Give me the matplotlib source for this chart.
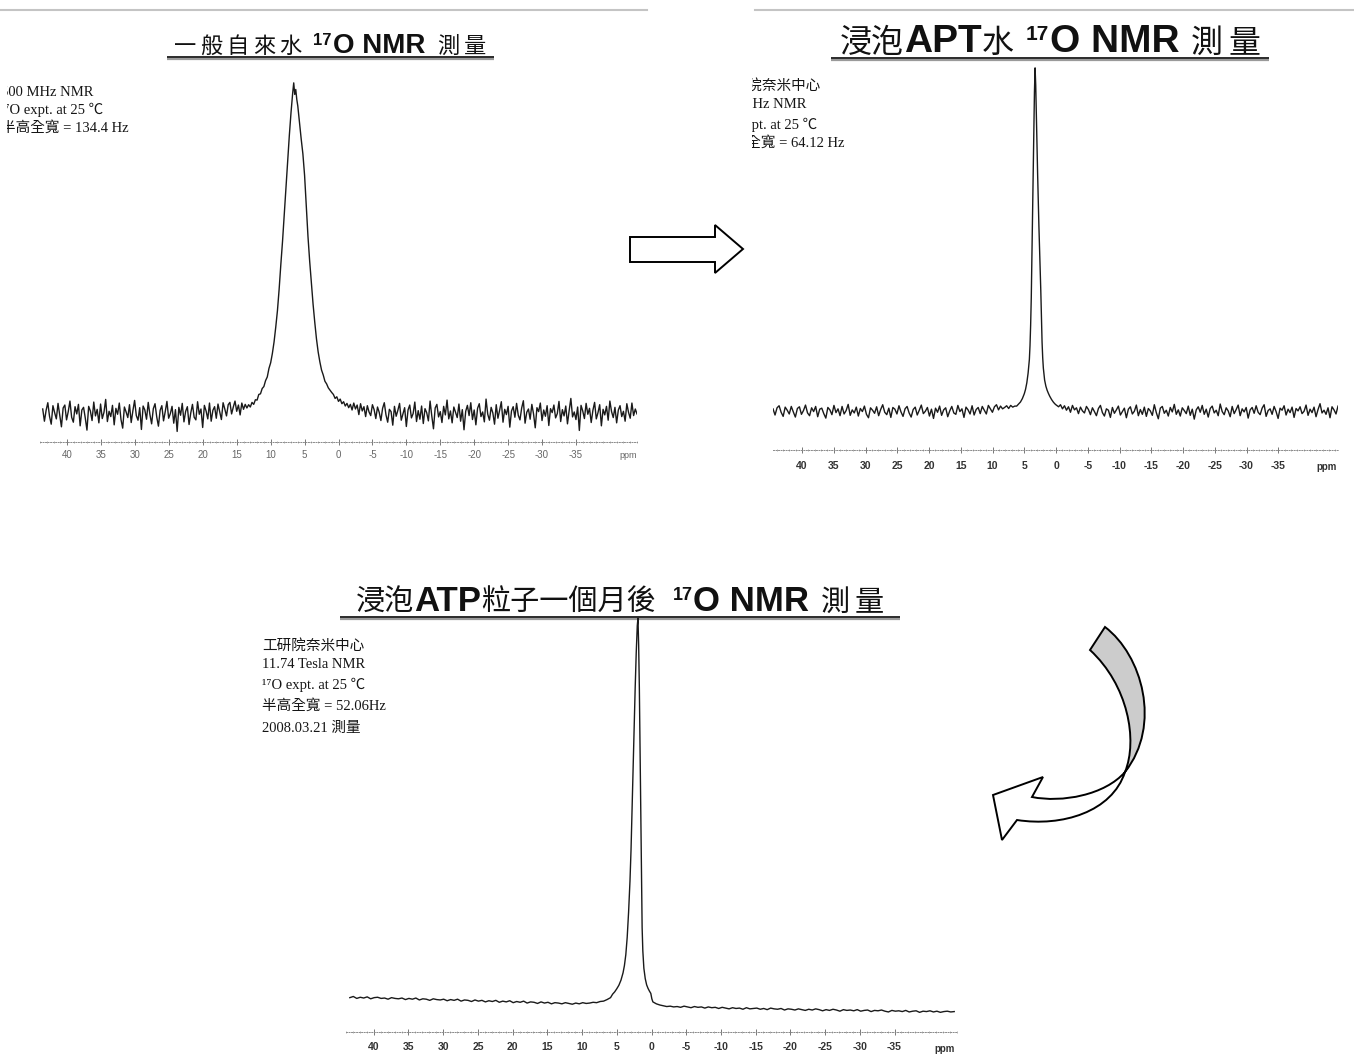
import numpy as np
import matplotlib.pyplot as plt
from matplotlib.path import Path
from matplotlib.patches import PathPatch

plt.rcParams['axes.unicode_minus'] = False

W, H = 1354, 1056
CJK = ['Noto Sans CJK TC', 'DejaVu Sans']
SERIF = ['Liberation Serif', 'Noto Sans CJK TC', 'DejaVu Sans']
SANS = ['Liberation Sans', 'Noto Sans CJK TC', 'DejaVu Sans']

# ---------------- data ----------------
tick_ppm = [40, 35, 30, 25, 20, 15, 10, 5, 0, -5, -10, -15, -20, -25, -30, -35]

# panel 1: ordinary tap water (broad line)
p1_left_range = (43.6, 13.75)
p1_left = [1.2, -2.5, 0.8, 3.1, -1.0, -3.4, 2.2, 0.1, -1.8, 2.9, -0.6, -4.2, 1.5, 2.4, -2.1, 0.4, 3.6, -1.3, -2.8, 1.9,
           -0.3, 2.6, -3.9, 0.9, 1.7, -1.5, -5.2, 2.0, 0.6, -2.3, 3.3, -0.9, 1.1, -3.0, 2.7, -1.7, 0.2, 4.1, -2.6, 0.5,
           -1.1, 2.3, -3.6, 1.4, -0.4, 3.0, -2.0, -4.6, 1.8, 0.3, -1.4, 2.5, -2.9, 0.7, 3.8, -0.8, -2.2, 1.6, -5.0, 2.1,
           0.9, -1.9, 3.2, -0.5, -3.3, 1.3, 2.8, -1.2, -4.0, 0.8, 2.2, -2.4, 0.4, 3.5, -1.6, -0.2, 2.0, -3.1, 1.0, -5.6,
           1.7, -0.7, 2.9, -2.7, 0.5, 1.9, -3.5, 0.0, 2.6, -1.3, -2.1, 3.4, -0.4, 1.2, -4.4, 2.3, 0.6, -1.8, 3.0, -2.5,
           0.8, 1.9, -1.6, 2.7, 0.4, -2.0, 3.1, 1.2, -0.9, 2.5, 3.2, -0.3, 1.8, 3.6, 0.5, 2.4, -0.6, 3.0, 1.1, 2.6]
p1_peak_ppm = [13.5, 13.25, 13.0, 12.75, 12.5, 12.25, 12.0, 11.75, 11.5, 11.25, 11.0, 10.75, 10.5, 10.25, 10.0,
               9.75, 9.5, 9.25, 9.0, 8.75, 8.5, 8.25, 8.0, 7.75, 7.5, 7.25, 7.0, 6.75, 6.6, 6.45, 6.3, 6.15,
               6.0, 5.75, 5.5, 5.25, 5.0, 4.75, 4.5, 4.25, 4.0, 3.75, 3.5, 3.25, 3.0, 2.75, 2.5, 2.25, 2.0,
               1.75, 1.5, 1.25, 1.0, 0.75, 0.5, 0.25, 0.0, -0.25, -0.5, -0.75, -1.0, -1.25, -1.5]
p1_peak_int = [1.5, 2.5, 1.8, 3.2, 2.6, 4.0, 3.9, 5.6, 5.8, 7.4, 8.0, 9.8, 10.9, 13.5, 15.2,
               18.0, 21.5, 26.0, 31.0, 37.5, 45.0, 52.0, 60.0, 68.5, 76.5, 84.0, 91.0, 97.0, 100.0, 96.5, 98.0, 95.0,
               93.0, 88.0, 83.0, 78.5, 72.0, 63.0, 53.5, 46.0, 39.5, 33.0, 27.5, 22.5, 18.5, 15.5, 13.0, 11.5, 9.6,
               8.8, 7.6, 6.9, 6.2, 5.6, 4.4, 4.9, 3.5, 4.2, 2.8, 3.4, 2.1, 2.9, 1.6]
p1_right_range = (-1.75, -44.0)
p1_right = [2.6, 0.9, 3.0, 1.2, 2.4, -0.5, 2.8, 0.6, 1.9, -1.1, 2.2, 0.3, -0.8, 2.5, 1.0, -1.7, 1.8, 0.2, -2.3, 1.4,
            3.1, -0.6, -2.8, 1.1, 0.4, -3.7, 2.0, -1.0, 0.8, 2.9, -2.2, -0.3, 1.6, -4.1, 0.9, 2.4, -1.5, -0.2, 3.3, -2.6,
            0.7, -1.9, 2.1, -3.2, 1.3, 0.1, -2.4, 3.6, -0.9, -4.8, 1.5, 2.6, -1.2, 0.4, -2.9, 2.0, -0.6, 3.9, -1.8, 0.6,
            -3.0, 1.8, 0.2, -1.4, 2.7, -2.5, 1.0, -5.1, 0.5, 2.3, -0.8, 3.1, -2.0, 0.9, -3.6, 1.4, 2.8, -1.1, 0.3, -2.7,
            4.2, -0.4, -2.2, 1.7, 0.0, -3.4, 2.5, -1.6, 0.8, 3.4, -2.8, 1.1, -0.5, 2.0, -4.3, 0.6, 1.9, -1.3, 2.9, -0.7,
            -2.1, 1.5, 3.7, -3.1, 0.2, 1.2, -1.9, 2.6, -0.3, -4.5, 1.6, 0.4, 3.0, -2.3, 0.9, -1.0, 2.2, -3.8, 1.3, 0.1,
            2.4, -1.5, -0.2, 3.5, -2.6, 1.0, -0.9, 2.1, -3.3, 0.7, 4.4, -1.2, 0.3, -2.0, 1.8, -5.3, 2.3, 0.6, -1.7, 2.9,
            -0.4, 1.4, -2.9, 0.8, 3.2, -1.8, 0.1, 2.5, -3.9, 1.1, -0.6, 2.0, -2.2, 3.6, 0.4, -1.4, 1.7, -3.0, 0.9, 2.2,
            -1.1, 0.5, -2.5, 2.8, 0.2, -1.6, 3.0, -0.8, 1.2, -0.3]

# panel 2: water soaked with APT
p2_left_range = (44.57, 6.5)
p2_left = [0.6, -1.2, 0.9, 1.5, -0.4, -1.6, 1.1, 0.2, -0.9, 1.3, -0.3, -1.8, 0.7, 1.2, -1.0, 0.1, 1.7, -0.6, -1.4, 0.9,
           -0.2, 1.3, -1.7, 0.5, 0.8, -0.8, -2.1, 1.0, 0.3, -1.1, 1.6, -0.5, 0.6, -1.4, 1.3, -0.9, 0.1, 1.9, -1.3, 0.3,
           -0.6, 1.1, -1.5, 0.7, -0.2, 1.4, -1.0, -2.0, 0.9, 0.2, -0.7, 1.2, -1.4, 0.4, 1.8, -0.4, -1.1, 0.8, -1.9, 1.0,
           0.5, -0.9, 1.5, -0.3, -1.6, 0.6, 1.3, -0.6, -1.8, 0.4, 1.1, -1.2, 0.2, 1.7, -0.8, -0.1, 1.0, -1.5, 0.5, -2.2,
           0.8, -0.4, 1.4, -1.3, 0.3, 0.9, -1.7, 0.0, 1.3, -0.6, -1.0, 1.6, -0.2, 0.6, -1.9, 1.1, 0.3, -0.9, 1.5, -1.2,
           0.4, 1.0, -0.8, 1.3, 0.2, -0.9, 1.6, 0.6, -0.4, 1.2, 1.8, 0.3, 1.4, 0.6, 1.0, 1.5, 0.7, 1.6, 1.1, 1.4]
p2_peak_ppm = [6.2, 5.9, 5.6, 5.3, 5.0, 4.8, 4.6, 4.4, 4.2, 4.1, 4.0, 3.9, 3.8, 3.7, 3.6, 3.5, 3.4, 3.3,
               3.2, 3.1, 3.0, 2.9, 2.8, 2.7, 2.6, 2.5, 2.4, 2.3, 2.2, 2.1, 2.0, 1.8, 1.6, 1.4, 1.2, 1.0,
               0.7, 0.4, 0.1, -0.2, -0.4]
p2_peak_int = [1.4, 2.0, 2.6, 3.6, 5.0, 6.3, 8.2, 11.0, 15.0, 19.0, 25.0, 33.0, 45.0, 57.0, 70.0, 82.0, 93.0, 100.0,
               95.0, 86.0, 77.0, 69.0, 61.0, 54.0, 48.0, 42.0, 35.0, 27.0, 20.0, 15.5, 12.5, 9.0, 7.2, 6.0, 5.1, 4.3,
               3.3, 2.5, 1.9, 1.5, 1.2]
p2_right_range = (-0.7, -44.4)
p2_right = [1.8, 0.6, 1.5, 0.2, 1.2, -0.4, 1.6, 0.3, 0.9, -0.8, 1.1, 0.0, -0.6, 1.3, 0.4, -1.1, 0.9, -0.2, -1.4, 0.7,
            1.6, -0.5, -1.5, 0.6, 0.2, -1.9, 1.0, -0.7, 0.3, 1.4, -1.2, -0.2, 0.8, -2.0, 0.5, 1.2, -0.9, -0.1, 1.7, -1.4,
            0.4, -1.0, 1.1, -1.6, 0.7, 0.0, -1.3, 1.8, -0.5, -2.3, 0.8, 1.3, -0.7, 0.2, -1.5, 1.0, -0.3, 1.9, -1.0, 0.3,
            -1.5, 0.9, 0.1, -0.8, 1.4, -1.3, 0.5, -2.4, 0.3, 1.2, -0.4, 1.6, -1.0, 0.5, -1.8, 0.7, 1.4, -0.6, 0.2, -1.4,
            2.0, -0.2, -1.1, 0.9, 0.0, -1.7, 1.3, -0.8, 0.4, 1.7, -1.4, 0.6, -0.3, 1.0, -2.1, 0.3, 1.0, -0.7, 1.5, -0.4,
            -1.1, 0.8, 1.8, -1.6, 0.1, 0.6, -1.0, 1.3, -0.2, -2.2, 0.8, 0.2, 1.5, -1.2, 0.5, -0.5, 1.1, -1.9, 0.7, 0.0,
            1.2, -0.8, -0.1, 1.7, -1.3, 0.5, -0.5, 1.1, -1.7, 0.4, 2.1, -0.6, 0.2, -1.0, 0.9, -2.0, 1.2, 0.3, -0.9, 1.4]

# panel 3: one month after soaking ATP particles
p3_left_range = (43.45, 5.9)
p3_left = [1.9, 2.2, 1.7, 2.0, 1.8, 2.1, 1.6, 1.9, 2.0, 1.7, 1.8, 1.5, 1.9, 1.7, 1.6, 1.8, 1.4, 1.7, 1.5, 1.8,
           1.3, 1.6, 1.5, 1.2, 1.6, 1.4, 1.3, 1.5, 1.1, 1.4, 1.2, 1.5, 1.0, 1.3, 1.2, 0.9, 1.3, 1.0, 1.2, 0.8,
           1.1, 0.9, 1.2, 0.7, 1.0, 0.8, 1.1, 0.6, 0.9, 0.7, 1.0, 0.5, 0.8, 0.7, 0.4, 0.8, 0.5, 0.7, 0.3, 0.6,
           0.5, 0.3, 0.6, 0.4, 0.2, 0.5, 0.3, 0.6, 0.4, 0.5, 0.7, 0.6, 0.9, 1.0, 1.4, 1.9]
p3_peak_ppm = [5.6, 5.3, 5.0, 4.7, 4.4, 4.1, 3.9, 3.7, 3.5, 3.3, 3.1, 2.95, 2.8, 2.65, 2.5, 2.35, 2.2, 2.05, 1.95,
               1.85, 1.75, 1.65, 1.55, 1.45, 1.35, 1.25, 1.1, 0.9, 0.7, 0.5, 0.3, 0.1, -0.05]
p3_peak_int = [2.8, 3.4, 4.2, 5.1, 6.4, 8.3, 10.2, 13.0, 17.5, 24.0, 32.0, 40.0, 50.0, 61.0, 72.0, 82.0, 91.0, 98.0, 100.0,
               93.0, 82.0, 66.0, 50.0, 32.0, 20.0, 14.0, 9.5, 6.8, 5.2, 4.3, 3.6, 3.0, 1.6]
p3_right_range = (-0.2, -43.6)
p3_right = [0.8, 0.3, 0.0, -0.2, -0.4, -0.3, -0.5, -0.4, -0.6, -0.3, -0.5, -0.7, -0.4, -0.6, -0.5, -0.8, -0.5, -0.7, -0.6, -0.9,
            -0.6, -0.8, -1.0, -0.7, -0.9, -0.8, -1.1, -0.7, -1.0, -0.9, -0.8, -1.1, -0.9, -1.2, -0.8, -1.0, -1.1, -0.9, -1.3, -1.0,
            -1.1, -1.3, -1.0, -1.2, -1.4, -1.1, -1.3, -1.0, -1.2, -1.5, -1.2, -1.4, -1.1, -1.3, -1.6, -1.2, -1.4, -1.3, -1.5, -1.2,
            -1.6, -1.4, -1.3, -1.7, -1.4, -1.5, -1.3, -1.6, -1.8, -1.4, -1.6, -1.5, -1.7, -1.4, -1.8, -1.6, -1.5, -1.9, -1.6, -1.7,
            -1.5, -1.8, -1.6, -1.9, -1.7, -1.6, -1.8, -1.7]

# titles: (text, fontsize, family, weight, raise, gap after)
title1 = [('一', 16, CJK, 'normal', 0, 4), ('般', 16, CJK, 'normal', 0, 4), ('自', 16, CJK, 'normal', 0, 4),
          ('來', 16, CJK, 'normal', 0, 4), ('水', 16, CJK, 'normal', 0, 12), ('17', 12, SANS, 'bold', -8, 1),
          ('O NMR', 20, SANS, 'bold', 0, 12), ('測', 16, CJK, 'normal', 0, 4), ('量', 16, CJK, 'normal', 0, 0)]
title2 = [('浸泡', 23, CJK, 'normal', 0, 0), ('APT', 28, SANS, 'bold', 0, 0), ('水', 23, CJK, 'normal', 0, 12),
          ('17', 15, SANS, 'bold', -12, 1), ('O NMR', 28, SANS, 'bold', 0, 12),
          ('測', 23, CJK, 'normal', 0, 5), ('量', 23, CJK, 'normal', 0, 0)]
title3 = [('浸泡', 21, CJK, 'normal', 0, 0), ('ATP', 25, SANS, 'bold', 0, 0), ('粒子一個月後', 21, CJK, 'normal', 0, 16),
          ('17', 13, SANS, 'bold', -11, 1), ('O NMR', 25, SANS, 'bold', 0, 12),
          ('測', 21, CJK, 'normal', 0, 4), ('量', 21, CJK, 'normal', 0, 0)]

info1 = ['500 MHz NMR', '¹⁷O expt. at 25 ℃', '半高全寬 = 134.4 Hz']
info2 = ['工研院奈米中心', '500 MHz NMR', '¹⁷O expt. at 25 ℃', '半高全寬 = 64.12 Hz']
info3 = ['工研院奈米中心', '11.74 Tesla NMR', '¹⁷O expt. at 25 ℃', '半高全寬 = 52.06Hz', '2008.03.21 測量']


def build(left_range, left, peak_ppm, peak_int, right_range, right):
    x = np.concatenate([np.linspace(*left_range, len(left)), peak_ppm,
                        np.linspace(*right_range, len(right))])
    y = np.concatenate([left, peak_int, right])
    return x, y


# ---------------- figure ----------------
fig = plt.figure(figsize=(W / 100, H / 100), dpi=100)
bg = fig.add_axes([0, 0, 1, 1])
bg.set_xlim(0, W)
bg.set_ylim(H, 0)
bg.axis('off')
renderer = fig.canvas.get_renderer()


def px_axes(x0, y0, x1, y1):
    ax = fig.add_axes([x0 / W, 1 - y1 / H, (x1 - x0) / W, (y1 - y0) / H])
    ax.patch.set_alpha(0)
    return ax


def spectrum(box, xlim, ylim, x, y, lw, bold, size, tcol, pad, ppm_xy):
    ax = px_axes(*box)
    ax.plot(x, y, color='#1a1a1a', lw=lw)
    ax.set_xlim(*xlim)
    ax.set_ylim(*ylim)
    for s in ('left', 'right', 'top'):
        ax.spines[s].set_visible(False)
    ax.spines['bottom'].set(color='#8a8a8a', lw=0.7, ls=(0, (1, 1.6)))
    ax.set_yticks([])
    ax.set_xticks(tick_ppm)
    ax.set_xticklabels([str(t) for t in tick_ppm], family='Liberation Sans',
                       fontweight='bold' if bold else 'normal')
    ax.set_xticks(range(-44, 45), minor=True)
    ax.tick_params(axis='x', which='major', direction='inout', length=4, width=0.7,
                   color='#777777', labelsize=size, labelcolor=tcol, pad=pad)
    ax.tick_params(axis='x', which='minor', direction='inout', length=2, width=0.5, color='#9a9a9a')
    bg.text(*ppm_xy, 'ppm', fontsize=size - 0.5, family='Liberation Sans', color=tcol,
            ha='center', va='center', fontweight='bold' if bold else 'normal')
    return ax


def title(xc, y, pieces, x0, x1, yline):
    arts, gaps = [], []
    for s, size, fam, wt, dy, gap in pieces:
        arts.append(bg.text(0, y + dy, s, fontsize=size, family=fam, fontweight=wt,
                            color='#111111', ha='left', va='baseline'))
        gaps.append(gap)
    widths = [t.get_window_extent(renderer).width for t in arts]
    x = xc - (sum(widths) + sum(gaps[:-1])) / 2
    for t, w, g in zip(arts, widths, gaps):
        t.set_x(x)
        x += w + g
    bg.plot([x0, x1], [yline + 1.5, yline + 1.5], color='#9a9a9a', lw=1.6, solid_capstyle='butt')
    bg.plot([x0, x1], [yline, yline], color='#1a1a1a', lw=1.3, solid_capstyle='butt')


def info(box, lines, xs, ys, size):
    ax = px_axes(*box)
    ax.set_xlim(box[0], box[2])
    ax.set_ylim(box[3], box[1])
    ax.set_xticks([])
    ax.set_yticks([])
    for s in ax.spines.values():
        s.set_visible(False)
    for s, x, y in zip(lines, xs, ys):
        ax.text(x, y, s, fontsize=size, family=SERIF, color='#151515',
                va='baseline', clip_on=True)


# top rules of the cropped slides
bg.plot([0, 647], [10, 10], color='#c4c4c4', lw=1.5)
bg.plot([755, W], [10, 10], color='#c4c4c4', lw=1.5)

# panel 1
x1, y1 = build(p1_left_range, p1_left, p1_peak_ppm, p1_peak_int, p1_right_range, p1_right)
spectrum((40, 70, 637, 442), (43.6, -44.0), (-8.8, 103.9), x1, y1, 1.0, False, 7, '#666666', 4, (628, 456))
title(330, 53, title1, 167, 494, 57)
info((7, 75, 220, 140), info1, [1, 0, 1], [96, 114, 132], 10.5)

# panel 2
x2, y2 = build(p2_left_range, p2_left, p2_peak_ppm, p2_peak_int, p2_right_range, p2_right)
spectrum((773, 60, 1338, 450), (44.57, -44.4), (-11.4, 102.3), x2, y2, 1.0, True, 7.5, '#333333', 6, (1327, 467))
title(1050, 52, title2, 831, 1269, 58)
info((752, 70, 900, 155), info2, [718, 714, 714, 717], [90, 108, 129, 147], 10.5)

# panel 3
x3, y3 = build(p3_left_range, p3_left, p3_peak_ppm, p3_peak_int, p3_right_range, p3_right)
spectrum((346, 615, 957, 1032), (43.45, -43.6), (-6.98, 100.8), x3, y3, 1.0, True, 7.5, '#333333', 5, (945, 1049))
title(620, 611, title3, 340, 900, 617)
info((255, 625, 460, 745), info3, [262] * 5, [650, 668, 689, 710, 732], 10.5)

# block arrow between the top panels
arrow_pts = [(630, 237), (715, 237), (715, 225), (743, 249), (715, 273), (715, 262), (630, 262), (630, 237)]
bg.add_patch(PathPatch(Path(arrow_pts, [Path.MOVETO] + [Path.LINETO] * 6 + [Path.CLOSEPOLY]),
                       facecolor='white', edgecolor='black', lw=1.4, joinstyle='miter'))

# curved arrow to the bottom panel: grey back band and white front band with head
band = Path([(1090, 650), (1105, 627), (1142, 655), (1162, 725), (1125, 772),
             (1138, 740), (1128, 685), (1090, 650), (1090, 650)],
            [Path.MOVETO, Path.LINETO, Path.CURVE4, Path.CURVE4, Path.CURVE4,
             Path.CURVE4, Path.CURVE4, Path.CURVE4, Path.CLOSEPOLY])
bg.add_patch(PathPatch(band, facecolor='#cccccc', edgecolor='black', lw=1.4))
front = Path([(1125, 772), (1105, 795), (1062, 803), (1032, 797), (1043, 777), (993, 795),
              (1002, 840), (1017, 820), (1062, 827), (1112, 812), (1125, 772), (1125, 772)],
             [Path.MOVETO, Path.CURVE4, Path.CURVE4, Path.CURVE4, Path.LINETO, Path.LINETO,
              Path.LINETO, Path.LINETO, Path.CURVE4, Path.CURVE4, Path.CURVE4, Path.CLOSEPOLY])
bg.add_patch(PathPatch(front, facecolor='white', edgecolor='black', lw=1.4))

fig.savefig('out.png', dpi=100)
